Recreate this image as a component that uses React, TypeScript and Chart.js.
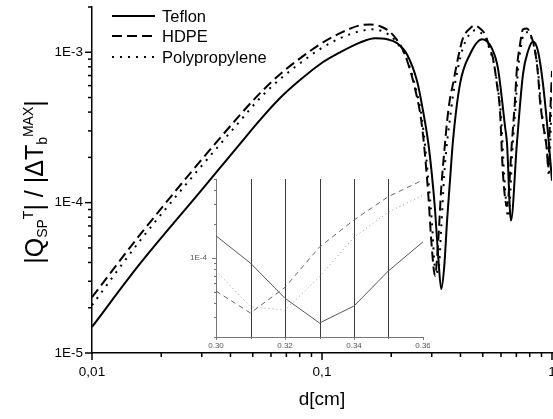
import React, { useEffect, useRef } from 'react';
import { Chart, registerables } from 'chart.js';

Chart.register(...registerables);

const FONT = '"Liberation Sans", Arial, Helvetica, sans-serif';

// ---------- main chart data ----------
const seriesLabels = ['Teflon', 'HDPE', 'Polypropylene'];

const teflonX = [0.01, 0.0162, 0.0295, 0.0440, 0.0538, 0.0657, 0.0802, 0.098, 0.120, 0.146, 0.170, 0.192, 0.212, 0.234, 0.259, 0.275, 0.289, 0.30, 0.31, 0.32, 0.33, 0.34, 0.35, 0.36, 0.371, 0.398, 0.44, 0.496, 0.548, 0.582, 0.625, 0.637, 0.663, 0.704, 0.748, 0.787, 0.827, 0.869, 0.914, 0.961, 1.0];
const teflonY = [1.49e-5, 3.94e-5, 1.18e-4, 2.46e-4, 3.55e-4, 4.96e-4, 6.53e-4, 8.33e-4, 1.0e-3, 1.16e-3, 1.24e-3, 1.22e-3, 1.15e-3, 9.7e-4, 6.43e-4, 4.07e-4, 2.57e-4, 1.57e-4, 9.0e-5, 4.4e-5, 2.66e-5, 3.76e-5, 7.7e-5, 1.39e-4, 2.57e-4, 6.14e-4, 9.7e-4, 1.22e-3, 1.06e-3, 7.84e-4, 3.2e-4, 2.5e-4, 7.6e-5, 2.5e-4, 7.15e-4, 1.02e-3, 1.18e-3, 1.02e-3, 6.14e-4, 2.86e-4, 1.4e-4];

const hdpeX = [0.01, 0.0162, 0.0440, 0.0538, 0.0657, 0.0802, 0.098, 0.120, 0.146, 0.162, 0.179, 0.198, 0.214, 0.229, 0.254, 0.272, 0.289, 0.30, 0.31, 0.32, 0.33, 0.34, 0.35, 0.36, 0.371, 0.390, 0.410, 0.440, 0.462, 0.486, 0.511, 0.537, 0.554, 0.576, 0.594, 0.612, 0.637, 0.670, 0.690, 0.704, 0.726, 0.748, 0.778, 0.818, 0.844, 0.869, 0.887, 0.914, 0.951, 0.962, 0.98, 1.0];
const hdpeY = [2.35e-5, 6.14e-5, 3.83e-4, 5.35e-4, 7.15e-4, 9.1e-4, 1.13e-3, 1.34e-3, 1.51e-3, 1.53e-3, 1.49e-3, 1.36e-3, 1.18e-3, 9.7e-4, 5.69e-4, 3.24e-4, 1.2e-4, 5.1e-5, 3.26e-5, 5.5e-5, 1.25e-4, 2.17e-4, 3.5e-4, 4.9e-4, 6.14e-4, 9.1e-4, 1.24e-3, 1.44e-3, 1.51e-3, 1.44e-3, 1.32e-3, 1.06e-3, 9.1e-4, 6.14e-4, 4.07e-4, 1.56e-4, 9.5e-5, 2.57e-4, 4.74e-4, 7.84e-4, 1.13e-3, 1.42e-3, 1.44e-3, 1.24e-3, 1.02e-3, 7.15e-4, 4.74e-4, 3.34e-4, 2.2e-4, 1.7e-4, 3.6e-4, 7.5e-4];

const ppX = [0.01, 0.0162, 0.0440, 0.0538, 0.0657, 0.0802, 0.098, 0.120, 0.146, 0.165, 0.183, 0.2015, 0.216, 0.229, 0.254, 0.272, 0.289, 0.30, 0.31, 0.32, 0.33, 0.34, 0.35, 0.36, 0.37, 0.39, 0.41, 0.44, 0.465, 0.49, 0.515, 0.54, 0.557, 0.58, 0.60, 0.62, 0.645, 0.675, 0.695, 0.71, 0.73, 0.755, 0.785, 0.825, 0.85, 0.875, 0.893, 0.92, 0.955, 0.97, 0.985, 1.0];
const ppY = [2.08e-5, 5.6e-5, 3.49e-4, 4.96e-4, 6.63e-4, 8.45e-4, 1.05e-3, 1.24e-3, 1.38e-3, 1.42e-3, 1.38e-3, 1.26e-3, 1.11e-3, 9.7e-4, 6.0e-4, 3.6e-4, 1.5e-4, 7.7e-5, 3.7e-5, 3.46e-5, 6.8e-5, 1.53e-4, 2.55e-4, 3.6e-4, 5.0e-4, 7.8e-4, 1.07e-3, 1.33e-3, 1.40e-3, 1.35e-3, 1.24e-3, 1.0e-3, 8.6e-4, 5.9e-4, 3.8e-4, 1.5e-4, 8.0e-5, 2.4e-4, 4.4e-4, 7.3e-4, 1.05e-3, 1.33e-3, 1.36e-3, 1.17e-3, 9.6e-4, 6.8e-4, 4.6e-4, 3.2e-4, 2.1e-4, 1.5e-4, 2.8e-4, 5.5e-4];

const xMin = 0.01, xMax = 1;
const yMin = 1e-5, yMax = 2e-3;
const xMajorTicks = [0.01, 0.1, 1];
const xTickLabels = ['0,01', '0,1', '1'];
const yMajorTicks = [1e-5, 1e-4, 1e-3];
const yTickLabels = ['1E-5', '1E-4', '1E-3'];
const minorMultipliers = [2, 3, 4, 5, 6, 7, 8, 9];
const xTitle = 'd[cm]';

// ---------- inset data ----------
const insetX = [0.30, 0.31, 0.32, 0.33, 0.34, 0.35, 0.36];
const insetTeflon = [1.57e-4, 9.0e-5, 4.4e-5, 2.66e-5, 3.76e-5, 7.7e-5, 1.39e-4];
const insetHDPE = [5.1e-5, 3.26e-5, 5.5e-5, 1.25e-4, 2.17e-4, 3.5e-4, 4.9e-4];
const insetPP = [7.7e-5, 3.7e-5, 3.46e-5, 6.8e-5, 1.53e-4, 2.55e-4, 3.6e-4];
const insetXTicks = [0.30, 0.31, 0.32, 0.33, 0.34, 0.35, 0.36];
const insetXLabels = ['0.30', '', '0.32', '', '0.34', '', '0.36'];
const insetYMajor = [1e-4];
const insetYLabels = ['1E-4'];
const insetYDecades = [1e-5, 1e-4];
const insetYMin = 2e-5, insetYMax = 5e-4;
const insetMarkers = [0.31, 0.32, 0.33, 0.34, 0.35];

const pts = (xs: number[], ys: number[]) => xs.map((x, i) => ({ x, y: ys[i] }));

const minorsFor = (decades: number[], lo: number, hi: number) => {
  const out: number[] = [];
  decades.forEach((d) => minorMultipliers.forEach((m) => {
    const v = m * d;
    if (v >= lo * 0.9999 && v <= hi * 1.0001) out.push(v);
  }));
  return out;
};

const mainDecor = {
  id: 'mainDecor',
  afterDraw(chart: any) {
    const { ctx, scales, chartArea } = chart;
    const x = scales.x, y = scales.y;
    ctx.save();
    ctx.strokeStyle = '#000';
    ctx.fillStyle = '#000';
    ctx.lineWidth = 1.5;
    const xMinors = minorsFor([0.01, 0.1], xMin, xMax);
    xMajorTicks.forEach((v) => {
      const px = x.getPixelForValue(v);
      ctx.beginPath(); ctx.moveTo(px, chartArea.bottom); ctx.lineTo(px, chartArea.bottom + 7); ctx.stroke();
    });
    xMinors.forEach((v) => {
      const px = x.getPixelForValue(v);
      ctx.beginPath(); ctx.moveTo(px, chartArea.bottom); ctx.lineTo(px, chartArea.bottom + 4); ctx.stroke();
    });
    const yMinors = minorsFor([1e-5, 1e-4, 1e-3], yMin, yMax);
    yMajorTicks.forEach((v) => {
      const py = y.getPixelForValue(v);
      ctx.beginPath(); ctx.moveTo(chartArea.left - 7, py); ctx.lineTo(chartArea.left, py); ctx.stroke();
    });
    yMinors.forEach((v) => {
      const py = y.getPixelForValue(v);
      ctx.beginPath(); ctx.moveTo(chartArea.left - 4, py); ctx.lineTo(chartArea.left, py); ctx.stroke();
    });
    ctx.font = `13.5px ${FONT}`;
    ctx.textAlign = 'center';
    ctx.textBaseline = 'middle';
    xMajorTicks.forEach((v, i) => {
      ctx.fillText(xTickLabels[i], x.getPixelForValue(v), chartArea.bottom + 19);
    });
    ctx.textAlign = 'right';
    yMajorTicks.forEach((v, i) => {
      ctx.fillText(yTickLabels[i], chartArea.left - 9, y.getPixelForValue(v));
    });
    ctx.font = `19px ${FONT}`;
    ctx.textAlign = 'center';
    ctx.fillText(xTitle, (chartArea.left + chartArea.right) / 2, 400);
    const F = 25, S = 14;
    const parts = [
      { t: '|Q', f: F, dy: 0 },
      { t: 'SP', f: S, dy: 4 },
      { t: 'T', f: S, dy: -10 },
      { t: '| / |\u0394T', f: F, dy: 0 },
      { t: 'b', f: S, dy: 4 },
      { t: 'MAX', f: S, dy: -10 },
      { t: '|', f: F, dy: 0 },
    ];
    ctx.save();
    ctx.translate(43, (chartArea.top + chartArea.bottom) / 2 + 2);
    ctx.rotate(-Math.PI / 2);
    ctx.textAlign = 'left';
    ctx.textBaseline = 'alphabetic';
    let total = 0;
    const widths = parts.map((p) => { ctx.font = `${p.f}px ${FONT}`; const w = ctx.measureText(p.t).width; total += w; return w; });
    let pos = -total / 2;
    parts.forEach((p, i) => { ctx.font = `${p.f}px ${FONT}`; ctx.fillText(p.t, pos, p.dy); pos += widths[i]; });
    ctx.restore();
    const legendY = [16, 36, 57];
    chart.data.datasets.forEach((ds: any, i: number) => {
      ctx.save();
      ctx.lineWidth = 2;
      ctx.setLineDash(ds.borderDash || []);
      ctx.beginPath(); ctx.moveTo(112, legendY[i]); ctx.lineTo(155, legendY[i]); ctx.stroke();
      ctx.restore();
      ctx.font = `16.5px ${FONT}`;
      ctx.textAlign = 'left';
      ctx.textBaseline = 'middle';
      ctx.fillText(ds.label, 162, legendY[i] + 1);
    });
    ctx.restore();
  },
};

const insetDecor = {
  id: 'insetDecor',
  beforeDatasetsDraw(chart: any) {
    const { ctx, scales, chartArea } = chart;
    ctx.save();
    ctx.strokeStyle = '#3a3a3a';
    ctx.lineWidth = 1;
    insetMarkers.forEach((v) => {
      const px = Math.round(scales.x.getPixelForValue(v)) + 0.5;
      ctx.beginPath(); ctx.moveTo(px, chartArea.top); ctx.lineTo(px, chartArea.bottom); ctx.stroke();
    });
    ctx.restore();
  },
  afterDraw(chart: any) {
    const { ctx, scales, chartArea } = chart;
    const x = scales.x, y = scales.y;
    ctx.save();
    ctx.strokeStyle = '#777';
    ctx.fillStyle = '#555';
    ctx.lineWidth = 1;
    insetXTicks.forEach((v, i) => {
      const px = Math.round(x.getPixelForValue(v)) + 0.5;
      const len = insetXLabels[i] ? 3 : 2;
      ctx.beginPath(); ctx.moveTo(px, chartArea.bottom); ctx.lineTo(px, chartArea.bottom + len); ctx.stroke();
    });
    const yMinors = minorsFor(insetYDecades, insetYMin, insetYMax);
    yMinors.forEach((v) => {
      const py = Math.round(y.getPixelForValue(v)) + 0.5;
      ctx.beginPath(); ctx.moveTo(chartArea.left - 2, py); ctx.lineTo(chartArea.left, py); ctx.stroke();
    });
    insetYMajor.forEach((v) => {
      const py = Math.round(y.getPixelForValue(v)) + 0.5;
      ctx.beginPath(); ctx.moveTo(chartArea.left - 4, py); ctx.lineTo(chartArea.left, py); ctx.stroke();
    });
    ctx.font = `8px ${FONT}`;
    ctx.textAlign = 'center';
    ctx.textBaseline = 'middle';
    insetXTicks.forEach((v, i) => {
      if (insetXLabels[i]) ctx.fillText(insetXLabels[i], x.getPixelForValue(v), chartArea.bottom + 9);
    });
    ctx.textAlign = 'right';
    insetYMajor.forEach((v, i) => {
      ctx.fillText(insetYLabels[i], chartArea.left - 9, y.getPixelForValue(v));
    });
    ctx.restore();
  },
};

export default function App() {
  const mainRef = useRef<HTMLCanvasElement>(null);
  const insetRef = useRef<HTMLCanvasElement>(null);

  useEffect(() => {
    const common = { pointRadius: 0, fill: false, borderColor: '#000', borderWidth: 2, cubicInterpolationMode: 'monotone' };
    const main = new Chart(mainRef.current as HTMLCanvasElement, {
      type: 'line',
      data: {
        datasets: [
          { ...common, label: seriesLabels[0], data: pts(teflonX, teflonY) },
          { ...common, label: seriesLabels[1], data: pts(hdpeX, hdpeY), borderDash: [10, 5] },
          { ...common, label: seriesLabels[2], data: pts(ppX, ppY), borderDash: [2, 6] },
        ] as any,
      },
      options: {
        responsive: false,
        animation: false,
        maintainAspectRatio: false,
        layout: { padding: { top: 7, right: 1, left: 0, bottom: 0 } },
        plugins: { legend: { display: false }, tooltip: { enabled: false } },
        scales: {
          x: {
            type: 'logarithmic', min: xMin, max: xMax,
            ticks: { display: false },
            grid: { display: false, drawTicks: false },
            border: { display: true, color: '#000', width: 1.5 },
            afterFit: (s: any) => { s.height = 66; },
          },
          y: {
            type: 'logarithmic', min: yMin, max: yMax,
            ticks: { display: false },
            grid: { display: false, drawTicks: false },
            border: { display: true, color: '#000', width: 1.5 },
            afterFit: (s: any) => { s.width = 92; },
          },
        },
      } as any,
      plugins: [mainDecor],
    });

    const thin = { pointRadius: 0, fill: false, borderWidth: 1, tension: 0 };
    const inset = new Chart(insetRef.current as HTMLCanvasElement, {
      type: 'line',
      data: {
        datasets: [
          { ...thin, label: seriesLabels[0], data: pts(insetX, insetTeflon), borderColor: '#555' },
          { ...thin, label: seriesLabels[1], data: pts(insetX, insetHDPE), borderColor: '#666', borderDash: [5, 4] },
          { ...thin, label: seriesLabels[2], data: pts(insetX, insetPP), borderColor: '#999', borderDash: [1, 3] },
        ] as any,
      },
      options: {
        responsive: false,
        animation: false,
        maintainAspectRatio: false,
        layout: { padding: { top: 9, right: 7, left: 0, bottom: 0 } },
        plugins: { legend: { display: false }, tooltip: { enabled: false } },
        scales: {
          x: {
            type: 'linear', min: 0.30, max: 0.36,
            ticks: { display: false },
            grid: { display: false, drawTicks: false },
            border: { display: true, color: '#777', width: 1 },
            afterFit: (s: any) => { s.height = 23; },
          },
          y: {
            type: 'logarithmic', min: insetYMin, max: insetYMax,
            ticks: { display: false },
            grid: { display: false, drawTicks: false },
            border: { display: true, color: '#777', width: 1 },
            afterFit: (s: any) => { s.width = 30; },
          },
        },
      } as any,
      plugins: [insetDecor],
    });

    return () => { main.destroy(); inset.destroy(); };
  }, []);

  return (
    <div style={{ position: 'fixed', left: 0, top: 0, width: 553, height: 419, background: '#fff' }}>
      <canvas ref={mainRef} width={553} height={419} style={{ position: 'absolute', left: 0, top: 0, width: 553, height: 419 }} />
      <canvas ref={insetRef} width={244} height={190} style={{ position: 'absolute', left: 186, top: 170, width: 244, height: 190 }} />
    </div>
  );
}
